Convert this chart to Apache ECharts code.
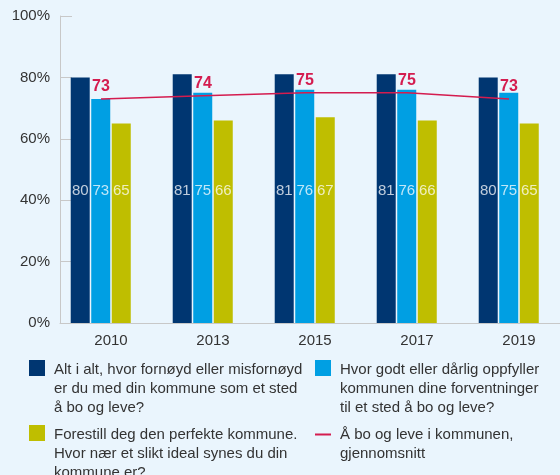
<!DOCTYPE html>
<html>
<head>
<meta charset="utf-8">
<script src="https://cdn.jsdelivr.net/npm/echarts@6.0.0/dist/echarts.min.js"></script>
<style>
  html, body { margin: 0; padding: 0; background: #eaf5fd; }
  #chart { width: 560px; height: 475px; }
</style>
</head>
<body>
<div id="chart"></div>
<script>
const years = ['2010', '2013', '2015', '2017', '2019']
const satisfied = [80, 81, 81, 81, 80]
const expectations = [73, 75, 76, 76, 75]
const ideal = [65, 66, 67, 66, 65]
const average = [73, 74, 75, 75, 73]

const nameSatisfied = 'Alt i alt, hvor fornøyd eller misfornøyd\ner du med din kommune som et sted\nå bo og leve?'
const nameExpect = 'Hvor godt eller dårlig oppfyller\nkommunen dine forventninger\ntil et sted å bo og leve?'
const nameIdeal = 'Forestill deg den perfekte kommune.\nHvor nær et slikt ideal synes du din\nkommune er?'
const nameAverage = 'Å bo og leve i kommunen,\ngjennomsnitt'

const font = 'Liberation Sans, Arial, sans-serif'
const axisGrey = '#c8c8c8'
const textGrey = '#333'

const chart = echarts.init(document.getElementById('chart'))

const squareIcon = 'path://M0,0H16V16H0Z M20,57L20,57'
const lineIcon = 'path://M0,0L0,0 M0,8.5H16V10.5H0Z M20,38L20,38'

// one legend per item so each can sit where the reference has it
function legendBox(name, left, top, icon, h) {
  return {
    data: [{ name: name, icon: icon, itemStyle: { borderWidth: 0 } }],
    left: left,
    top: top,
    orient: 'vertical',
    padding: 0,
    itemGap: 0,
    itemWidth: 20,
    itemHeight: h,
    selectedMode: false,
    textStyle: { fontFamily: font, fontSize: 15, lineHeight: 19, color: textGrey },
  }
}

const barLabel = {
  show: true,
  position: 'insideBottom',
  distance: 125,
  color: 'rgba(255,255,255,0.75)',
  fontFamily: font,
  fontSize: 15,
}

const option = {
  backgroundColor: '#eaf5fd',
  animation: false,
  legend: [
    legendBox(nameSatisfied, 29, 360, squareIcon, 57),
    legendBox(nameExpect, 315, 360, squareIcon, 57),
    legendBox(nameIdeal, 29, 425, squareIcon, 57),
    legendBox(nameAverage, 315, 425, lineIcon, 38),
  ],
  grid: [
    // plot runs a little past the right edge, as in the original
    { left: 60, width: 510, top: 16, bottom: 152, outerBoundsMode: 'none' },
    // same size, shifted 10px left, so the line sits on the middle bar
    { left: 50, width: 510, top: 16, bottom: 152, outerBoundsMode: 'none' },
  ],
  xAxis: [
    {
      type: 'category',
      data: years,
      axisLine: { lineStyle: { color: axisGrey } },
      axisTick: { inside: true, length: 8, lineStyle: { color: axisGrey } },
      axisLabel: { color: textGrey, fontFamily: font, fontSize: 15, margin: 10 },
    },
    { type: 'category', data: years, gridIndex: 1, show: false },
  ],
  yAxis: [
    {
      type: 'value',
      min: 0,
      max: 100,
      interval: 20,
      axisLine: { show: true, lineStyle: { color: axisGrey } },
      axisTick: { show: true, inside: true, length: 12, lineStyle: { color: axisGrey } },
      splitLine: { show: false },
      axisLabel: { formatter: '{value}%', color: textGrey, fontFamily: font, fontSize: 15, margin: 10 },
    },
    { type: 'value', min: 0, max: 100, gridIndex: 1, show: false },
  ],
  series: [
    {
      name: nameSatisfied,
      type: 'bar',
      data: satisfied,
      barWidth: 19,
      barGap: '8%',
      itemStyle: { color: '#003671' },
      label: barLabel,
    },
    {
      name: nameExpect,
      type: 'bar',
      data: expectations,
      barWidth: 19,
      barGap: '8%',
      itemStyle: { color: '#009fe3' },
      label: barLabel,
    },
    {
      name: nameIdeal,
      type: 'bar',
      data: ideal,
      barWidth: 19,
      barGap: '8%',
      itemStyle: { color: '#bfbe00' },
      label: barLabel,
    },
    {
      // empty slot: the original keeps room for a fourth bar
      name: '',
      type: 'bar',
      data: [],
      barWidth: 19,
      barGap: '8%',
    },
    {
      name: nameAverage,
      type: 'line',
      xAxisIndex: 1,
      yAxisIndex: 1,
      data: average,
      symbol: 'circle',
      symbolSize: 0.1,
      itemStyle: { color: '#d41c4f' },
      lineStyle: { color: '#d41c4f', width: 1.5 },
      label: {
        show: true,
        position: 'top',
        distance: 4,
        color: '#d41c4f',
        fontFamily: font,
        fontSize: 16,
        fontWeight: 'bold',
      },
      z: 5,
    },
  ],
}

chart.setOption(option)
</script>
</body>
</html>
